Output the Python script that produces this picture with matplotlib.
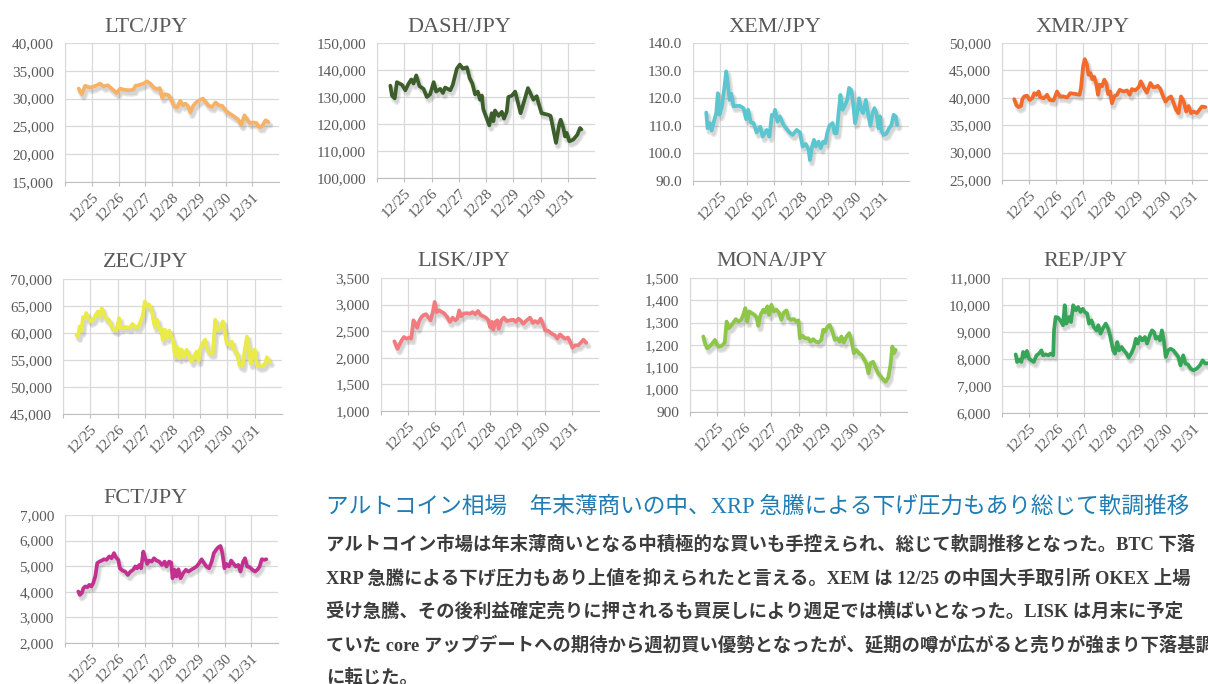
## Altcoins / JPY : 9 petits graphiques + commentaire
import numpy as np
import matplotlib.pyplot as plt
import matplotlib.patheffects as pe
from matplotlib.ticker import FuncFormatter

plt.rcParams['font.family'] = ['Liberation Serif', 'Noto Sans CJK JP']

## Données (x en jours depuis le 12/24 00:00)
day_labels = ['', '12/25', '12/26', '12/27', '12/28', '12/29', '12/30', '12/31']

ltc_x = [0.51, 0.58, 0.63, 0.75, 0.94, 1.1, 1.31, 1.44, 1.6, 1.81, 1.94, 2.06, 2.2, 2.4, 2.56,
         2.63, 2.75, 2.94, 3.06, 3.19, 3.31, 3.44, 3.54, 3.63, 3.75, 3.88, 4.0, 4.09, 4.19,
         4.31, 4.41, 4.5, 4.59, 4.69, 4.79, 4.88, 4.96, 5.06, 5.16, 5.25, 5.38, 5.5, 5.63,
         5.75, 5.88, 6.0, 6.13, 6.31, 6.46, 6.59, 6.71, 6.81, 6.91, 7.04, 7.16, 7.25, 7.34,
         7.41, 7.5, 7.6]
ltc_y = [31800, 31200, 30800, 32300, 32000, 32200, 32700, 32200, 32400, 31500, 31000, 31800,
         31600, 31500, 31600, 32300, 32400, 32700, 33100, 32700, 32000, 31700, 31900, 30200,
         30800, 30600, 29500, 28600, 28400, 29600, 28800, 29100, 28700, 27500, 28700, 29200,
         29500, 29800, 30000, 29400, 28700, 28500, 29300, 28800, 28700, 27800, 27400, 26800,
         26300, 25300, 27000, 26200, 25600, 25700, 25600, 24900, 24900, 25400, 26100, 25800]

dash_x = [0.49, 0.55, 0.65, 0.73, 0.92, 1.04, 1.16, 1.26, 1.34, 1.44, 1.56, 1.71, 1.83, 1.95,
          2.08, 2.17, 2.32, 2.42, 2.5, 2.69, 2.78, 2.88, 2.93, 3.04, 3.15, 3.3, 3.4, 3.5, 3.6,
          3.7, 3.78, 3.85, 3.9, 4.03, 4.12, 4.21, 4.27, 4.33, 4.46, 4.58, 4.66, 4.76, 4.82,
          4.95, 5.07, 5.27, 5.54, 5.74, 5.86, 5.92, 6.04, 6.29, 6.37, 6.47, 6.57, 6.69, 6.74,
          6.84, 6.9, 6.96, 7.06, 7.2, 7.35, 7.45, 7.5]
dash_y = [134200, 130500, 129500, 135500, 134500, 132500, 135000, 136500, 135000, 138000,
          134000, 133000, 130000, 131000, 135500, 132000, 133000, 131500, 133500, 132500,
          134500, 138500, 140500, 142000, 140500, 141000, 137000, 135000, 131000, 132000,
          129000, 130500, 125500, 122000, 119500, 124000, 121000, 125000, 123000, 124500,
          122000, 124500, 130000, 130500, 132000, 124000, 133300, 129000, 130300, 128000,
          124000, 123400, 123000, 118000, 113000, 120000, 121600, 118500, 115400, 116700,
          113600, 114200, 116000, 118500, 118000]

xem_x = [0.49, 0.54, 0.62, 0.69, 0.79, 0.86, 0.92, 0.98, 1.07, 1.16, 1.23, 1.29, 1.35, 1.42,
         1.5, 1.62, 1.74, 1.87, 1.97, 2.04, 2.14, 2.24, 2.36, 2.49, 2.58, 2.73, 2.83, 2.92,
         2.98, 3.04, 3.13, 3.22, 3.35, 3.45, 3.57, 3.69, 3.84, 3.96, 4.06, 4.18, 4.28, 4.33,
         4.41, 4.48, 4.55, 4.65, 4.73, 4.82, 4.9, 4.97, 5.05, 5.17, 5.24, 5.32, 5.39, 5.46,
         5.54, 5.64, 5.71, 5.78, 5.86, 5.93, 6.0, 6.08, 6.15, 6.23, 6.3, 6.4, 6.49, 6.57,
         6.65, 6.72, 6.79, 6.87, 6.92, 6.99, 7.06, 7.16, 7.26, 7.35, 7.43, 7.51, 7.56]
xem_y = [114.8, 109.1, 111.0, 108.3, 112.2, 114.6, 121.8, 114.0, 117.0, 123.7, 129.7, 125.5,
         119.4, 121.6, 117.0, 117.2, 117.2, 116.4, 112.4, 115.8, 111.2, 111.0, 107.6, 109.7,
         106.1, 108.5, 106.1, 114.0, 113.6, 115.8, 111.5, 113.4, 110.3, 109.1, 107.6, 106.7,
         108.5, 107.6, 102.5, 103.4, 101.3, 97.6, 102.5, 104.9, 102.5, 104.3, 101.9, 104.3,
         103.7, 107.3, 110.0, 111.0, 107.3, 107.3, 114.6, 121.2, 115.8, 117.6, 119.4, 123.7,
         123.0, 118.2, 111.0, 114.6, 120.0, 115.8, 114.6, 119.4, 114.0, 110.0, 114.6, 116.4,
         114.6, 109.1, 113.4, 107.9, 106.7, 107.1, 109.1, 110.3, 114.0, 113.4, 110.3]

xmr_x = [0.45, 0.53, 0.61, 0.7, 0.75, 0.82, 0.92, 1.02, 1.11, 1.19, 1.27, 1.35, 1.41, 1.54,
         1.66, 1.76, 1.9, 2.03, 2.13, 2.27, 2.4, 2.52, 2.7, 2.86, 2.91, 2.99, 3.05, 3.13, 3.19,
         3.26, 3.33, 3.4, 3.48, 3.54, 3.6, 3.69, 3.77, 3.85, 3.91, 3.99, 4.05, 4.14, 4.24,
         4.34, 4.48, 4.61, 4.71, 4.79, 4.91, 5.04, 5.12, 5.22, 5.34, 5.47, 5.57, 5.66, 5.74,
         5.84, 5.94, 6.03, 6.14, 6.23, 6.33, 6.42, 6.51, 6.6, 6.7, 6.79, 6.88, 6.97, 7.06,
         7.19, 7.29, 7.37, 7.5]
xmr_y = [39750, 38700, 38300, 38500, 39750, 40250, 40400, 39600, 39900, 40850, 40550, 41150,
         40100, 39900, 40550, 39600, 39500, 41150, 40250, 40250, 40050, 40850, 40700, 40550,
         41750, 45700, 47050, 46050, 44200, 44500, 43400, 43800, 42400, 40550, 42400, 42100,
         43300, 42550, 40700, 41150, 39000, 40250, 40550, 41450, 41150, 41350, 40550, 41600,
         41350, 41950, 43000, 41950, 40950, 42700, 41950, 41950, 42200, 41600, 40250, 39300,
         39950, 40250, 39000, 37800, 37200, 40250, 39300, 37500, 38500, 37200, 37500, 37200,
         37900, 38400, 38300]

zec_x = [0.49, 0.55, 0.61, 0.67, 0.73, 0.81, 0.85, 0.92, 1.0, 1.1, 1.2, 1.28, 1.34, 1.42,
         1.49, 1.59, 1.68, 1.77, 1.86, 1.95, 2.05, 2.1, 2.2, 2.32, 2.44, 2.54, 2.63, 2.75,
         2.83, 2.91, 2.99, 3.05, 3.15, 3.24, 3.3, 3.36, 3.44, 3.52, 3.6, 3.64, 3.72, 3.79,
         3.88, 3.96, 4.03, 4.09, 4.18, 4.25, 4.33, 4.42, 4.52, 4.6, 4.7, 4.79, 4.88, 4.95,
         5.0, 5.1, 5.19, 5.27, 5.37, 5.47, 5.56, 5.64, 5.74, 5.84, 5.91, 5.98, 6.08, 6.17,
         6.25, 6.35, 6.45, 6.55, 6.65, 6.72, 6.79, 6.86, 6.94, 7.01, 7.08, 7.18, 7.3, 7.39,
         7.45, 7.55]
zec_y = [59650, 59350, 61200, 60300, 62950, 62750, 63700, 62750, 62150, 62450, 63400, 64000,
         63050, 64600, 63400, 62550, 62450, 61200, 60600, 60450, 62750, 60900, 61100, 61100,
         60900, 61700, 61100, 61100, 62150, 63050, 65850, 64900, 65250, 64300, 62450, 61100,
         62450, 60700, 60700, 58750, 60600, 59050, 60450, 59350, 58400, 55650, 57350, 55350,
         56950, 55550, 56900, 55950, 54700, 55650, 56550, 54900, 56900, 58100, 58750, 56900,
         56250, 56250, 62450, 60600, 60900, 62150, 60300, 58100, 57800, 58400, 56900, 56250,
         54100, 53800, 57200, 59350, 57200, 54300, 56250, 56900, 54100, 53800, 53900, 54400,
         55500, 54700]

lisk_x = [0.49, 0.55, 0.61, 0.67, 0.76, 0.84, 0.94, 1.04, 1.11, 1.19, 1.26, 1.33, 1.39, 1.47,
          1.55, 1.65, 1.75, 1.82, 1.9, 1.97, 2.04, 2.14, 2.24, 2.33, 2.43, 2.53, 2.63, 2.73,
          2.8, 2.87, 2.94, 3.04, 3.14, 3.27, 3.36, 3.46, 3.56, 3.66, 3.76, 3.85, 3.94, 4.0,
          4.07, 4.12, 4.2, 4.27, 4.32, 4.42, 4.51, 4.61, 4.73, 4.86, 4.95, 5.04, 5.12, 5.22,
          5.35, 5.47, 5.57, 5.66, 5.76, 5.86, 5.96, 6.03, 6.14, 6.26, 6.39, 6.47, 6.57, 6.67,
          6.76, 6.86, 6.94, 7.03, 7.13, 7.24, 7.36, 7.43, 7.53]
lisk_y = [2310, 2235, 2170, 2235, 2330, 2390, 2360, 2380, 2360, 2705, 2640, 2565, 2675, 2755,
          2800, 2820, 2755, 2705, 2860, 3050, 2860, 2890, 2860, 2830, 2765, 2675, 2755, 2705,
          2735, 2890, 2780, 2830, 2840, 2830, 2860, 2820, 2880, 2800, 2780, 2755, 2705, 2580,
          2675, 2530, 2675, 2705, 2545, 2705, 2755, 2690, 2705, 2715, 2675, 2735, 2705, 2640,
          2705, 2755, 2655, 2690, 2655, 2735, 2610, 2515, 2505, 2455, 2420, 2360, 2440, 2390,
          2360, 2380, 2300, 2190, 2235, 2235, 2300, 2340, 2280]

mona_x = [0.49, 0.55, 0.64, 0.74, 0.83, 0.92, 0.98, 1.05, 1.17, 1.28, 1.35, 1.42, 1.5, 1.6,
          1.69, 1.79, 1.89, 1.96, 2.04, 2.11, 2.18, 2.28, 2.38, 2.45, 2.52, 2.6, 2.7, 2.77,
          2.85, 2.92, 3.0, 3.09, 3.19, 3.29, 3.37, 3.46, 3.56, 3.63, 3.73, 3.83, 3.93, 4.0,
          4.05, 4.15, 4.25, 4.36, 4.44, 4.54, 4.64, 4.74, 4.84, 4.91, 4.98, 5.06, 5.15, 5.25,
          5.34, 5.42, 5.52, 5.58, 5.67, 5.77, 5.87, 5.95, 6.04, 6.13, 6.23, 6.33, 6.43, 6.5,
          6.58, 6.65, 6.75, 6.85, 6.94, 7.04, 7.14, 7.21, 7.31, 7.39, 7.46, 7.52, 7.58]
mona_y = [1238, 1208, 1185, 1196, 1208, 1223, 1205, 1193, 1196, 1211, 1305, 1275, 1283, 1301,
          1316, 1305, 1313, 1335, 1365, 1305, 1350, 1343, 1335, 1325, 1286, 1335, 1358, 1346,
          1373, 1335, 1380, 1350, 1358, 1343, 1313, 1346, 1355, 1320, 1313, 1316, 1305, 1310,
          1230, 1241, 1230, 1230, 1215, 1226, 1215, 1211, 1223, 1268, 1260, 1280, 1290, 1260,
          1223, 1230, 1215, 1238, 1211, 1238, 1253, 1220, 1163, 1178, 1163, 1155, 1133, 1118,
          1073, 1118, 1125, 1095, 1073, 1058, 1043, 1035, 1055, 1110, 1193, 1163, 1178]

rep_x = [0.5, 0.55, 0.62, 0.71, 0.77, 0.84, 0.91, 0.99, 1.07, 1.16, 1.26, 1.35, 1.44, 1.5,
         1.6, 1.7, 1.77, 1.87, 1.9, 1.96, 2.05, 2.13, 2.23, 2.29, 2.35, 2.45, 2.52, 2.6, 2.7,
         2.78, 2.87, 2.95, 3.02, 3.11, 3.18, 3.27, 3.35, 3.45, 3.52, 3.6, 3.7, 3.79, 3.88,
         3.96, 4.06, 4.13, 4.21, 4.28, 4.37, 4.45, 4.55, 4.63, 4.73, 4.82, 4.89, 4.96, 5.04,
         5.13, 5.22, 5.3, 5.4, 5.48, 5.55, 5.62, 5.7, 5.77, 5.84, 5.91, 5.98, 6.07, 6.16,
         6.26, 6.35, 6.44, 6.52, 6.62, 6.7, 6.79, 6.89, 6.99, 7.11, 7.23, 7.33, 7.43, 7.55]
rep_y = [8170, 7890, 7975, 7890, 8260, 8075, 8300, 8010, 7950, 7890, 8135, 8200, 8320, 8135,
         8170, 8135, 8200, 8135, 9060, 9555, 9530, 9430, 9250, 9990, 9310, 9555, 9370, 9990,
         9800, 9925, 9740, 9860, 9740, 9680, 9310, 9430, 9185, 9060, 9250, 8940, 9160, 9310,
         9120, 8815, 8320, 8200, 8630, 8320, 8445, 8320, 8200, 8050, 8220, 8445, 8750, 8570,
         8815, 8690, 8815, 8570, 8880, 9060, 9000, 8750, 8815, 8690, 9060, 8690, 8075, 8320,
         8380, 8320, 8200, 8075, 7765, 8135, 7830, 7800, 7640, 7580, 7640, 7765, 7950, 7830,
         7850]

fct_x = [0.5, 0.56, 0.63, 0.69, 0.76, 0.84, 0.91, 0.99, 1.06, 1.14, 1.21, 1.29, 1.38, 1.46,
         1.56, 1.66, 1.75, 1.84, 1.91, 2.0, 2.06, 2.16, 2.26, 2.36, 2.46, 2.56, 2.64, 2.71,
         2.79, 2.86, 2.94, 3.01, 3.09, 3.16, 3.26, 3.34, 3.44, 3.54, 3.64, 3.74, 3.81, 3.91,
         3.99, 4.04, 4.11, 4.19, 4.26, 4.34, 4.44, 4.54, 4.64, 4.74, 4.84, 4.94, 5.04, 5.13,
         5.21, 5.31, 5.41, 5.51, 5.59, 5.69, 5.76, 5.84, 5.91, 5.99, 6.06, 6.16, 6.24, 6.31,
         6.41, 6.51, 6.59, 6.69, 6.76, 6.84, 6.94, 7.04, 7.14, 7.24, 7.31, 7.39, 7.49, 7.56]
fct_y = [4010, 3880, 3950, 4140, 4210, 4180, 4270, 4210, 4340, 4620, 5120, 5180, 5220, 5270,
         5250, 5380, 5310, 5510, 5350, 5250, 4920, 4830, 4790, 4660, 4790, 4860, 4990, 4920,
         5050, 4920, 5570, 5310, 5090, 5220, 5180, 5310, 5220, 5180, 5050, 5180, 4990, 5180,
         5140, 4530, 4860, 4600, 4880, 4530, 4730, 4860, 4790, 4860, 4920, 4990, 5120, 5270,
         5140, 4990, 4920, 5180, 5510, 5660, 5740, 5790, 5510, 4920, 5090, 4990, 5220, 5120,
         4990, 5050, 4790, 5180, 5310, 4990, 4960, 4860, 4790, 4880, 4990, 5270, 5250, 5270]

titre = 'アルトコイン相場\u3000年末薄商いの中、XRP 急騰による下げ圧力もあり総じて軟調推移'
texte = ['アルトコイン市場は年末薄商いとなる中積極的な買いも手控えられ、総じて軟調推移となった。BTC 下落',
         'XRP 急騰による下げ圧力もあり上値を抑えられたと言える。XEM は 12/25 の中国大手取引所 OKEX 上場',
         '受け急騰、その後利益確定売りに押されるも買戻しにより週足では横ばいとなった。LISK は月末に予定',
         'ていた core アップデートへの期待から週初買い優勢となったが、延期の噂が広がると売りが強まり下落基調',
         'に転じた。']

## Tracé
W, H = 1208, 684
fig = plt.figure(figsize=(W / 100, H / 100), dpi=100)
gris = '#595959'


def boite(g, h, d, b):
    '''position en pixels (gauche, haut, droite, bas) -> fraction de la figure'''
    return [g / W, 1 - b / H, (d - g) / W, (b - h) / H]


fmt_mille = FuncFormatter(lambda v, p: '{:,.0f}'.format(v))
fmt_dec = FuncFormatter(lambda v, p: '{:.1f}'.format(v))


def graphe(nom, x, y, couleur, pos, ymin, ymax, pas, fmt, tx, ty):
    ax = fig.add_axes(boite(*pos))
    # ombre douce sous la courbe
    ombre = [pe.SimpleLineShadow(offset=(1.5, -2.5), shadow_color='#555555',
                                 alpha=0.14, linewidth=4.5),
             pe.SimpleLineShadow(offset=(1.5, -2.5), shadow_color='#555555',
                                 alpha=0.12, linewidth=2.5),
             pe.Normal()]
    ax.plot(x, y, color=couleur, lw=2.7, solid_joinstyle='round', solid_capstyle='round',
            path_effects=ombre)
    ax.set_xlim(0, 8)
    ax.set_ylim(ymin, ymax)
    ax.set_xticks(range(8))
    ax.set_xticklabels(day_labels, rotation=45, ha='right', rotation_mode='anchor')
    ax.set_yticks(np.arange(ymin, ymax + pas / 2, pas))
    ax.yaxis.set_major_formatter(fmt)
    ax.grid(color='#d9d9d9', lw=0.9)
    ax.set_axisbelow(True)
    ax.spines['top'].set_visible(False)
    ax.spines['right'].set_visible(False)
    ax.spines['left'].set_color('#d9d9d9')
    ax.spines['bottom'].set_color('#bfbfbf')
    ax.tick_params(axis='y', length=0, pad=8, labelsize=11, labelcolor=gris)
    ax.tick_params(axis='x', length=3, color='#bfbfbf', pad=3, labelsize=11, labelcolor=gris)
    fig.text(tx / W, 1 - ty / H, nom, ha='center', va='baseline', fontsize=16, color=gris)


graphe('LTC/JPY', ltc_x, ltc_y, '#f7b266', (65, 43, 279, 182), 15000, 40000, 5000, fmt_mille, 146, 32)
graphe('DASH/JPY', dash_x, dash_y, '#3b5e2b', (377, 43, 595, 178), 100000, 150000, 10000, fmt_mille, 459, 32)
graphe('XEM/JPY', xem_x, xem_y, '#5bc6d0', (693, 43, 909, 181), 90, 140, 10, fmt_dec, 775, 32)
graphe('XMR/JPY', xmr_x, xmr_y, '#f26b2a', (1002, 43, 1219, 180), 25000, 50000, 5000, fmt_mille, 1083, 32)
graphe('ZEC/JPY', zec_x, zec_y, '#eaea48', (63, 279, 282, 414), 45000, 70000, 5000, fmt_mille, 146, 267)
graphe('LISK/JPY', lisk_x, lisk_y, '#f27b7f', (381, 278, 599, 411), 1000, 3500, 500, fmt_mille, 464, 266)
graphe('MONA/JPY', mona_x, mona_y, '#8dc648', (690, 278, 907, 412), 900, 1500, 100, fmt_mille, 772, 266)
graphe('REP/JPY', rep_x, rep_y, '#37a558', (1002, 278, 1221, 413), 6000, 11000, 1000, fmt_mille, 1085, 266)
graphe('FCT/JPY', fct_x, fct_y, '#c2318f', (65, 515, 278, 643), 2000, 7000, 1000, fmt_mille, 145, 503)

# Commentaire
fig.text(326 / W, 1 - 507 / H, titre, ha='left', va='center', fontsize=16.3, color='#1f7db3')
for k, ligne in enumerate(texte):
    fig.text(326 / W, 1 - (545 + 33.2 * k) / H, ligne, ha='left', va='center',
             fontsize=13.2, color='#3c3c3c', fontweight='bold')

fig.savefig('out.png', dpi=100)
